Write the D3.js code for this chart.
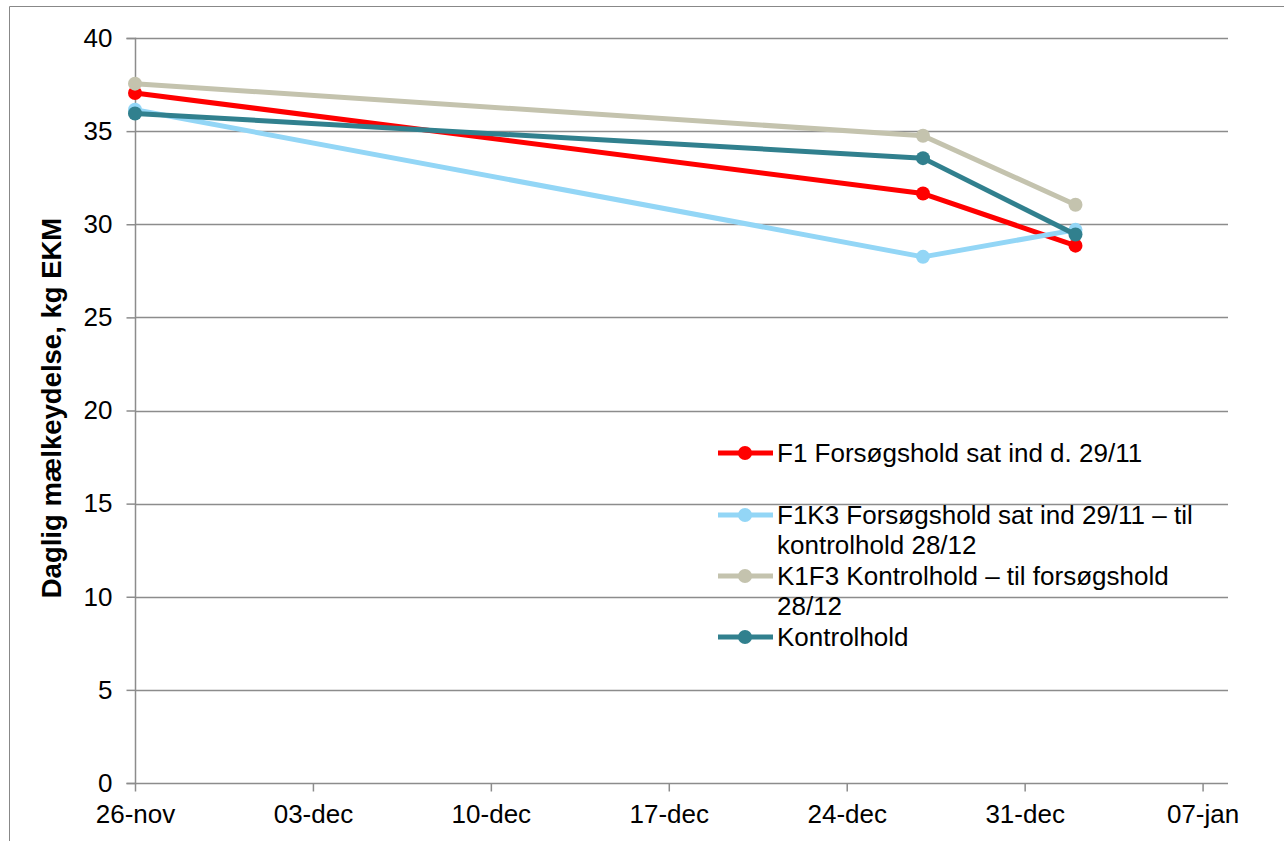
<!DOCTYPE html>
<html>
<head>
<meta charset="utf-8">
<script src="https://cdn.jsdelivr.net/npm/d3@7"></script>
<style>
  body { margin: 0; background: #fff; }
  svg { font-family: "Liberation Sans", Arial, sans-serif; }
</style>
</head>
<body>
<div id="chart"></div>
<script>
// size
var width  = 1284;
var height = 841;

// data
var dates = ["2010-11-26", "2010-12-27", "2011-01-02"];
var seriesNames = [
  ["F1 Forsøgshold sat ind d. 29/11"],
  ["F1K3 Forsøgshold sat ind 29/11 – til", "kontrolhold 28/12"],
  ["K1F3 Kontrolhold – til forsøgshold", "28/12"],
  ["Kontrolhold"]
];
var f1     = [37.05, 31.65, 28.85];
var f1k3   = [36.15, 28.25, 29.7];
var k1f3   = [37.55, 34.75, 31.05];
var kontrol = [35.95, 33.55, 29.45];
var yTicks = [0, 5, 10, 15, 20, 25, 30, 35, 40];
var xTickDates = ["2010-11-26", "2010-12-03", "2010-12-10", "2010-12-17", "2010-12-24", "2010-12-31", "2011-01-07"];

var colors = ["#ff0000", "#93d6f6", "#c4c3ae", "#31808e"];
var allSeries = [f1, f1k3, k1f3, kontrol];

var parse = d3.timeParse("%Y-%m-%d");
var fontSize = "26px";

var svg = d3.select("#chart").append("svg")
    .attr("width", width)
    .attr("height", height);

// outer frame (left + top visible)
svg.append("path")
    .attr("d", "M9.5,841 V6.5 H1284")
    .style("fill", "none")
    .style("stroke", "#888")
    .style("stroke-width", 1);

var x = d3.scaleTime()
    .domain([parse("2010-11-26"), parse("2011-01-08")])
    .range([135, 1228]);

var y = d3.scaleLinear()
    .domain([0, 40])
    .range([783, 38]);

// grid
svg.append("g").selectAll("line")
    .data(yTicks.filter(function(d){ return d > 0; }))
    .enter().append("line")
    .attr("x1", 135).attr("x2", 1228)
    .attr("y1", function(d){ return Math.round(y(d)) + 0.5; })
    .attr("y2", function(d){ return Math.round(y(d)) + 0.5; })
    .style("stroke", "#8c8c8c")
    .style("stroke-width", 1.5);

// y axis
var yAxis = svg.append("g")
    .attr("transform", "translate(135.5,0)")
    .call(d3.axisLeft(y).tickValues(yTicks).tickSize(9).tickPadding(14));
yAxis.select(".domain").style("stroke", "#8c8c8c").style("stroke-width", 1.5)
    .attr("d", "M-9," + (y(40)+0.5) + "H0V" + (y(0)+0.5) + "H-9");
yAxis.selectAll(".tick line").style("stroke", "#8c8c8c").style("stroke-width", 1.5);
yAxis.selectAll("text")
    .style("font-size", fontSize)
    .style("fill", "#000")
    .style("font-family", "Liberation Sans, Arial, sans-serif");

// x axis
var xAxis = svg.append("g")
    .attr("transform", "translate(0," + (Math.round(y(0)) + 0.5) + ")")
    .call(d3.axisBottom(x)
        .tickValues(xTickDates.map(parse))
        .tickFormat(function(d){
            var m = ["jan","feb","mar","apr","maj","jun","jul","aug","sep","okt","nov","dec"][d.getMonth()];
            return d3.timeFormat("%d")(d) + "-" + m;
        })
        .tickSize(8).tickPadding(13));
xAxis.select(".domain").style("stroke", "#8c8c8c").style("stroke-width", 1.5)
    .attr("d", "M135,0H1228");
xAxis.selectAll(".tick line").style("stroke", "#8c8c8c").style("stroke-width", 1.5);
xAxis.selectAll("text")
    .style("font-size", fontSize)
    .style("fill", "#000")
    .style("font-family", "Liberation Sans, Arial, sans-serif");

// y label
svg.append("text")
    .attr("transform", "translate(61," + 408 + ") rotate(-90)")
    .attr("text-anchor", "middle")
    .style("font-size", "27.5px")
    .style("font-weight", "bold")
    .text("Daglig mælkeydelse, kg EKM");

// lines
var line = d3.line()
    .x(function(d, i){ return x(parse(dates[i])); })
    .y(function(d){ return y(d); });

allSeries.forEach(function(s, k){
    var g = svg.append("g").attr("class", "series" + k);
    g.append("path")
        .datum(s)
        .attr("d", line)
        .style("fill", "none")
        .style("stroke", colors[k])
        .style("stroke-width", 5)
        .style("stroke-linejoin", "round");
    g.selectAll("circle")
        .data(s)
        .enter().append("circle")
        .attr("cx", function(d, i){ return x(parse(dates[i])); })
        .attr("cy", function(d){ return y(d); })
        .attr("r", 7)
        .style("fill", colors[k]);
});

// legend
var legendY = [453, 515, 576, 637];
var legend = svg.append("g");
seriesNames.forEach(function(name, k){
    var ly = legendY[k];
    legend.append("line")
        .attr("x1", 718).attr("x2", 773)
        .attr("y1", ly).attr("y2", ly)
        .style("stroke", colors[k])
        .style("stroke-width", 5);
    legend.append("circle")
        .attr("cx", 745).attr("cy", ly).attr("r", 7)
        .style("fill", colors[k]);
    var t = legend.append("text")
        .attr("x", 777)
        .attr("y", ly + 9)
        .style("font-size", fontSize)
        .style("fill", "#000");
    name.forEach(function(part, j){
        t.append("tspan")
            .attr("x", 777)
            .attr("dy", j === 0 ? 0 : 30)
            .text(part);
    });
});
</script>
</body>
</html>
